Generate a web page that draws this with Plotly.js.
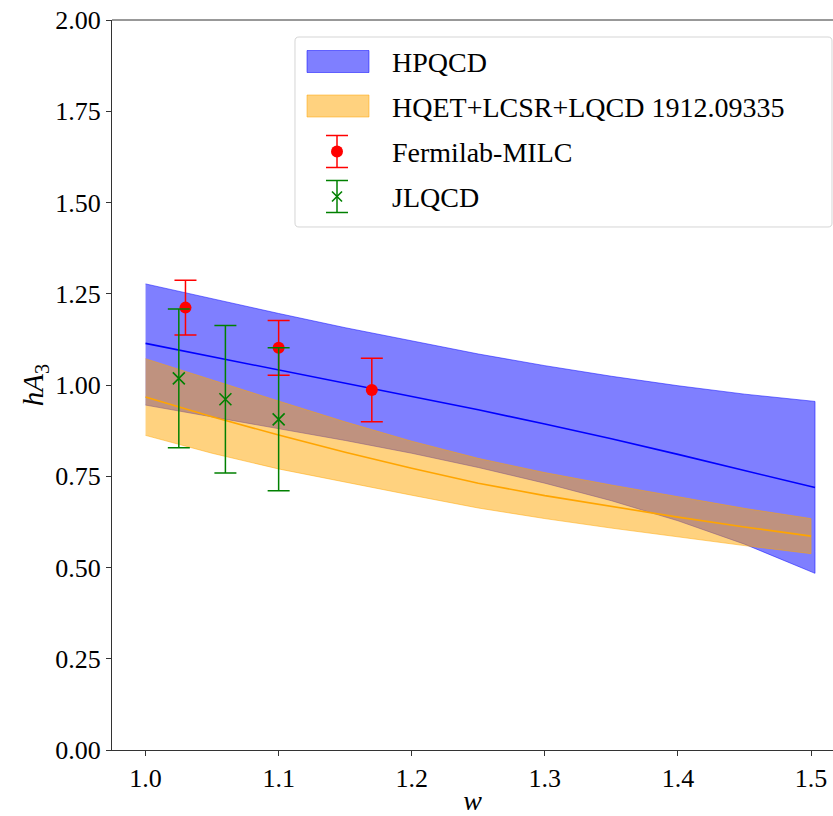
<!DOCTYPE html>
<html>
<head>
<meta charset="utf-8">
<script src="https://cdn.plot.ly/plotly-3.0.1.min.js"></script>
<style>
html,body{margin:0;padding:0;background:#fff;}
#chart{width:833px;height:816px;}
</style>
</head>
<body>
<div id="chart"></div>
<script>
// ---- data ----
const hpqcdW = [1.0, 1.05, 1.1, 1.15, 1.2, 1.25, 1.3, 1.35, 1.4, 1.45, 1.503];
const hpqcdCentral = [1.114, 1.078, 1.042, 1.006, 0.970, 0.932, 0.893, 0.853, 0.810, 0.765, 0.719];
const hpqcdUpper = [1.277, 1.236, 1.196, 1.157, 1.120, 1.085, 1.053, 1.024, 0.998, 0.975, 0.955];
const hpqcdLower = [0.945, 0.913, 0.881, 0.848, 0.813, 0.774, 0.731, 0.683, 0.628, 0.564, 0.484];

const hqetW = [1.0, 1.05, 1.1, 1.15, 1.2, 1.25, 1.3, 1.35, 1.4, 1.45, 1.5];
const hqetCentral = [0.967, 0.913, 0.863, 0.816, 0.772, 0.731, 0.697, 0.667, 0.638, 0.611, 0.586];
const hqetUpper = [1.072, 1.013, 0.956, 0.899, 0.846, 0.799, 0.760, 0.726, 0.693, 0.662, 0.634];
const hqetLower = [0.862, 0.813, 0.770, 0.733, 0.698, 0.663, 0.634, 0.608, 0.583, 0.560, 0.538];

const fnalW = [1.03, 1.10, 1.17];
const fnalVal = [1.212, 1.102, 0.986];
const fnalErr = [0.075, 0.075, 0.087];

const jlqcdW = [1.025, 1.06, 1.10];
const jlqcdVal = [1.018, 0.961, 0.906];
const jlqcdErr = [0.190, 0.202, 0.196];

const seriesNames = ['HPQCD', 'HQET+LCSR+LQCD 1912.09335', 'Fermilab-MILC', 'JLQCD'];
const yTickVals = [0, 0.25, 0.5, 0.75, 1.0, 1.25, 1.5, 1.75, 2.0];
const yTickText = ['0.00', '0.25', '0.50', '0.75', '1.00', '1.25', '1.50', '1.75', '2.00'];
const xTickVals = [1.0, 1.1, 1.2, 1.3, 1.4, 1.5];
const xTickText = ['1.0', '1.1', '1.2', '1.3', '1.4', '1.5'];

// ---- styles ----
const FONT = '"Liberation Serif", "Times New Roman", serif';
const BLUE_FILL = 'rgba(0,0,255,0.5)';
const ORANGE_FILL = 'rgba(255,165,0,0.5)';

function band(w, up, lo) {
  return { x: w.concat(w.slice().reverse()), y: up.concat(lo.slice().reverse()) };
}
const hb = band(hpqcdW, hpqcdUpper, hpqcdLower);
const ob = band(hqetW, hqetUpper, hqetLower);

const traces = [
  { x: hb.x, y: hb.y, type: 'scatter', mode: 'lines', fill: 'toself',
    fillcolor: BLUE_FILL, line: { color: BLUE_FILL, width: 1 },
    name: seriesNames[0], showlegend: false, hoverinfo: 'skip' },
  { x: hpqcdW, y: hpqcdCentral, type: 'scatter', mode: 'lines',
    line: { color: 'blue', width: 1.6 }, showlegend: false },
  { x: ob.x, y: ob.y, type: 'scatter', mode: 'lines', fill: 'toself',
    fillcolor: ORANGE_FILL, line: { color: ORANGE_FILL, width: 1 },
    name: seriesNames[1], showlegend: false, hoverinfo: 'skip' },
  { x: hqetW, y: hqetCentral, type: 'scatter', mode: 'lines',
    line: { color: 'orange', width: 1.6 }, showlegend: false },
  { x: fnalW, y: fnalVal, type: 'scatter', mode: 'markers', name: seriesNames[2], showlegend: false,
    marker: { color: 'red', size: 12, symbol: 'circle' },
    error_y: { type: 'data', array: fnalErr, visible: true, color: 'red', thickness: 1.5, width: 11 } },
  { x: jlqcdW, y: jlqcdVal, type: 'scatter', mode: 'markers', name: seriesNames[3], showlegend: false,
    marker: { color: 'green', size: 12, symbol: 'x-thin', line: { color: 'green', width: 1.6 } },
    error_y: { type: 'data', array: jlqcdErr, visible: true, color: 'green', thickness: 1.5, width: 11 } }
];

// plot geometry (px)
const L = 112, T = 20, R = 833, B = 750, W = 833, H = 816;
const px = (x) => (x - L) / (R - L);
const py = (y) => (B - y) / (B - T);

// ---- legend (drawn as shapes + text annotations) ----
function roundRect(x0, y0, x1, y1, r) {
  const X = (v) => px(v).toFixed(5), Y = (v) => py(v).toFixed(5);
  return 'M' + X(x0 + r) + ',' + Y(y0) +
    ' L' + X(x1 - r) + ',' + Y(y0) + ' Q' + X(x1) + ',' + Y(y0) + ' ' + X(x1) + ',' + Y(y0 + r) +
    ' L' + X(x1) + ',' + Y(y1 - r) + ' Q' + X(x1) + ',' + Y(y1) + ' ' + X(x1 - r) + ',' + Y(y1) +
    ' L' + X(x0 + r) + ',' + Y(y1) + ' Q' + X(x0) + ',' + Y(y1) + ' ' + X(x0) + ',' + Y(y1 - r) +
    ' L' + X(x0) + ',' + Y(y0 + r) + ' Q' + X(x0) + ',' + Y(y0) + ' ' + X(x0 + r) + ',' + Y(y0) + ' Z';
}
const P = { xref: 'paper', yref: 'paper', layer: 'above' };
function pline(x0, y0, x1, y1, color, width) {
  return Object.assign({ type: 'line', x0: px(x0), x1: px(x1), y0: py(y0), y1: py(y1),
    line: { color: color, width: width } }, P);
}
function prect(x0, y0, x1, y1, fill, edge) {
  return Object.assign({ type: 'rect', x0: px(x0), x1: px(x1), y0: py(y1), y1: py(y0),
    fillcolor: fill, line: { color: edge, width: 1 } }, P);
}
function errIcon(cx, yTop, yBot, color) {
  return [
    pline(cx, yTop, cx, yBot, color, 1.5),
    pline(cx - 11, yTop, cx + 11, yTop, color, 1.5),
    pline(cx - 11, yBot, cx + 11, yBot, color, 1.5)
  ];
}
const iconX = 337;
const rowY = [61.5, 106, 151.5, 196.5];
const legendShapes = [
  Object.assign({ type: 'path', path: roundRect(295, 37, 832, 227, 4),
    fillcolor: 'rgba(255,255,255,0.8)', line: { color: '#d5d5d5', width: 1 } }, P),
  prect(307, rowY[0] - 11, 369, rowY[0] + 11, BLUE_FILL, BLUE_FILL),
  prect(307, rowY[1] - 11, 369, rowY[1] + 11, ORANGE_FILL, ORANGE_FILL)
].concat(errIcon(iconX, rowY[2] - 16, rowY[2] + 16, 'red'))
 .concat([Object.assign({ type: 'circle', x0: px(iconX - 6), x1: px(iconX + 6),
    y0: py(rowY[2] + 6), y1: py(rowY[2] - 6), fillcolor: 'red', line: { color: 'red', width: 0 } }, P)])
 .concat(errIcon(iconX, rowY[3] - 16, rowY[3] + 16, 'green'))
 .concat([pline(iconX - 5, rowY[3] - 5, iconX + 5, rowY[3] + 5, 'green', 1.6),
          pline(iconX - 5, rowY[3] + 5, iconX + 5, rowY[3] - 5, 'green', 1.6)]);

const legendAnnotations = seriesNames.map((name, i) => ({
  xref: 'paper', yref: 'paper', x: px(390), y: py(rowY[i] + 1), xanchor: 'left', yanchor: 'middle',
  text: name, showarrow: false, font: { family: FONT, size: 28, color: '#000' }
}));

const layout = {
  width: W, height: H,
  margin: { l: L, r: W - R, t: T, b: H - B, pad: 0 },
  paper_bgcolor: '#fff', plot_bgcolor: '#fff',
  font: { family: FONT, size: 26, color: '#000' },
  showlegend: false,
  xaxis: {
    range: [0.9748, 1.5165], tickmode: 'array', tickvals: xTickVals, ticktext: xTickText,
    showgrid: false, zeroline: false, showline: true, linecolor: '#333', linewidth: 1,
    ticks: 'outside', ticklen: 5, tickcolor: '#333', tickwidth: 1,
    tickfont: { family: FONT, size: 26, color: '#000' },
    title: { text: '<i>w</i>', font: { family: FONT, size: 28, color: '#000' }, standoff: 2 }
  },
  yaxis: {
    range: [0, 2], tickmode: 'array', tickvals: yTickVals, ticktext: yTickText,
    showgrid: false, zeroline: false, showline: true, linecolor: '#333', linewidth: 1,
    ticks: 'outside', ticklen: 5, tickcolor: '#333', tickwidth: 1,
    tickfont: { family: FONT, size: 26, color: '#000' },
    title: { text: '<i>hA</i><sub>3</sub>', font: { family: FONT, size: 29, color: '#000' }, standoff: 3 }
  },
  shapes: [
    { type: 'line', xref: 'paper', yref: 'paper', x0: 0, x1: 1, y0: 1, y1: 1,
      line: { color: '#333', width: 1 } }
  ].concat(legendShapes),
  annotations: legendAnnotations
};

Plotly.newPlot('chart', traces, layout, { displayModeBar: false, staticPlot: true });
</script>
</body>
</html>
